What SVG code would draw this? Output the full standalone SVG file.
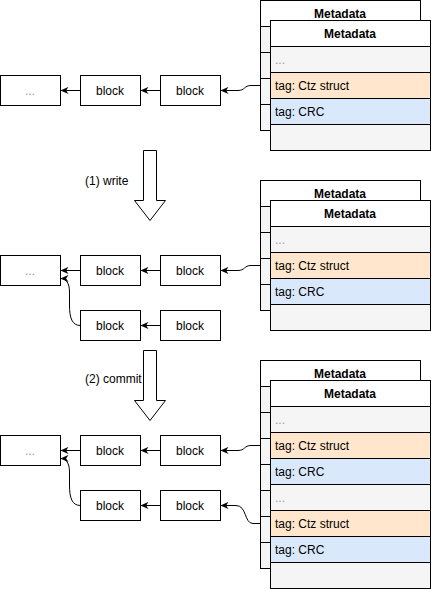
<svg xmlns="http://www.w3.org/2000/svg" width="431" height="589" viewBox="0 0 431 589">
<style>
text{font-family:"Liberation Sans",Arial,Helvetica,sans-serif;font-size:12px;fill:#000}
.c{text-anchor:middle;dominant-baseline:central}
.l{dominant-baseline:central}
.h{font-weight:bold}
.dots{fill:#999}
.box{fill:#fff;stroke:#000;stroke-width:1}
.row{fill:#f5f5f5;stroke:#000;stroke-width:1}
.ctz{fill:#ffe6cc;stroke:#000;stroke-width:1}
.crc{fill:#dae8fc;stroke:#000;stroke-width:1}
.big{fill:#fff;stroke:#000;stroke-width:1}
.e{fill:none;stroke:#000;stroke-width:1;marker-end:url(#ah)}
</style>
<defs>
<marker id="ah" markerUnits="userSpaceOnUse" viewBox="0 0 10 10" refX="10" refY="5" markerWidth="8" markerHeight="8" orient="auto">
<path d="M10,5 L0,0.5 L3,5 L0,9.5 z" fill="#000"/>
</marker>
</defs>

<!-- ===== Stage 1 ===== -->
<g id="meta1-back">
<rect class="row" x="260.5" y="26.5" width="160" height="26"/>
<rect class="row" x="260.5" y="52.5" width="160" height="26"/>
<rect class="row" x="260.5" y="78.5" width="160" height="26"/>
<rect class="row" x="260.5" y="104.5" width="160" height="26"/>
<rect class="box" x="260.5" y="0.5" width="160" height="26"/>
<text class="c h" x="340" y="13.5">Metadata</text>
</g>
<g id="meta1-front">
<rect class="box" x="270.5" y="20.5" width="160" height="26"/>
<text class="c h" x="350" y="33.5">Metadata</text>
<rect class="row" x="270.5" y="46.5" width="160" height="26"/>
<text class="l dots" x="275" y="59.5">...</text>
<rect class="ctz" x="270.5" y="72.5" width="160" height="26"/>
<text class="l" x="275" y="85.5">tag: Ctz struct</text>
<rect class="crc" x="270.5" y="98.5" width="160" height="26"/>
<text class="l" x="275" y="111.5">tag: CRC</text>
<rect class="row" x="270.5" y="124.5" width="160" height="26"/>
</g>
<g id="s1-dots"><rect class="box" x="0.5" y="75.5" width="60" height="30"/><text class="c dots" x="30" y="90.5">...</text></g>
<g id="s1-block1"><rect class="box" x="80.5" y="75.5" width="60" height="30"/><text class="c" x="110" y="90.5">block</text></g>
<g id="s1-block2"><rect class="box" x="160.5" y="75.5" width="60" height="30"/><text class="c" x="190" y="90.5">block</text></g>

<g id="arrow-write">
<path class="big" d="M143.5,150.5 H156.5 V200.5 H165.5 L150,220.5 L134.5,200.5 H143.5 Z"/>
<text class="l" x="85" y="180.5">(1) write</text>
</g>

<!-- ===== Stage 2 ===== -->
<g id="meta2-back">
<rect class="row" x="260.5" y="206.5" width="160" height="26"/>
<rect class="row" x="260.5" y="232.5" width="160" height="26"/>
<rect class="row" x="260.5" y="258.5" width="160" height="26"/>
<rect class="row" x="260.5" y="284.5" width="160" height="26"/>
<rect class="box" x="260.5" y="180.5" width="160" height="26"/>
<text class="c h" x="340" y="193.5">Metadata</text>
</g>
<g id="meta2-front">
<rect class="box" x="270.5" y="200.5" width="160" height="26"/>
<text class="c h" x="350" y="213.5">Metadata</text>
<rect class="row" x="270.5" y="226.5" width="160" height="26"/>
<text class="l dots" x="275" y="239.5">...</text>
<rect class="ctz" x="270.5" y="252.5" width="160" height="26"/>
<text class="l" x="275" y="265.5">tag: Ctz struct</text>
<rect class="crc" x="270.5" y="278.5" width="160" height="26"/>
<text class="l" x="275" y="291.5">tag: CRC</text>
<rect class="row" x="270.5" y="304.5" width="160" height="26"/>
</g>
<g id="s2-dots"><rect class="box" x="0.5" y="255.5" width="60" height="30"/><text class="c dots" x="30" y="270.5">...</text></g>
<g id="s2-block1"><rect class="box" x="80.5" y="255.5" width="60" height="30"/><text class="c" x="110" y="270.5">block</text></g>
<g id="s2-block2"><rect class="box" x="160.5" y="255.5" width="60" height="30"/><text class="c" x="190" y="270.5">block</text></g>
<g id="s2-block3"><rect class="box" x="80.5" y="310.5" width="60" height="30"/><text class="c" x="110" y="325.5">block</text></g>
<g id="s2-block4"><rect class="box" x="160.5" y="310.5" width="60" height="30"/><text class="c" x="190" y="325.5">block</text></g>

<g id="arrow-commit">
<path class="big" d="M143.5,350.5 H156.5 V400.5 H165.5 L150,420.5 L134.5,400.5 H143.5 Z"/>
<text class="l" x="85" y="378.5">(2) commit</text>
</g>

<!-- ===== Stage 3 ===== -->
<g id="meta3-back">
<rect class="row" x="260.5" y="386.5" width="160" height="26"/>
<rect class="row" x="260.5" y="412.5" width="160" height="26"/>
<rect class="row" x="260.5" y="438.5" width="160" height="26"/>
<rect class="row" x="260.5" y="464.5" width="160" height="26"/>
<rect class="row" x="260.5" y="490.5" width="160" height="26"/>
<rect class="row" x="260.5" y="516.5" width="160" height="26"/>
<rect class="row" x="260.5" y="542.5" width="160" height="26"/>
<rect class="box" x="260.5" y="360.5" width="160" height="26"/>
<text class="c h" x="340" y="373.5">Metadata</text>
</g>
<g id="meta3-front">
<rect class="box" x="270.5" y="380.5" width="160" height="26"/>
<text class="c h" x="350" y="393.5">Metadata</text>
<rect class="row" x="270.5" y="406.5" width="160" height="26"/>
<text class="l dots" x="275" y="419.5">...</text>
<rect class="ctz" x="270.5" y="432.5" width="160" height="26"/>
<text class="l" x="275" y="445.5">tag: Ctz struct</text>
<rect class="crc" x="270.5" y="458.5" width="160" height="26"/>
<text class="l" x="275" y="471.5">tag: CRC</text>
<rect class="row" x="270.5" y="484.5" width="160" height="26"/>
<text class="l dots" x="275" y="497.5">...</text>
<rect class="ctz" x="270.5" y="510.5" width="160" height="26"/>
<text class="l" x="275" y="523.5">tag: Ctz struct</text>
<rect class="crc" x="270.5" y="536.5" width="160" height="26"/>
<text class="l" x="275" y="549.5">tag: CRC</text>
<rect class="row" x="270.5" y="562.5" width="160" height="26"/>
</g>
<g id="s3-dots"><rect class="box" x="0.5" y="435.5" width="60" height="30"/><text class="c dots" x="30" y="450.5">...</text></g>
<g id="s3-block1"><rect class="box" x="80.5" y="435.5" width="60" height="30"/><text class="c" x="110" y="450.5">block</text></g>
<g id="s3-block2"><rect class="box" x="160.5" y="435.5" width="60" height="30"/><text class="c" x="190" y="450.5">block</text></g>
<g id="s3-block3"><rect class="box" x="80.5" y="490.5" width="60" height="30"/><text class="c" x="110" y="505.5">block</text></g>
<g id="s3-block4"><rect class="box" x="160.5" y="490.5" width="60" height="30"/><text class="c" x="190" y="505.5">block</text></g>

<g id="connectors">
<!-- stage 1 -->
<path class="e" d="M160.5,90.5 H140.5"/>
<path class="e" d="M80.5,90.5 H60.5"/>
<path class="e" d="M260.5,85.5 H251 C244,85.5 245,90.5 238,90.5 H220.5"/>
<!-- stage 2 -->
<path class="e" d="M160.5,270.5 H140.5"/>
<path class="e" d="M80.5,270.5 H60.5"/>
<path class="e" d="M260.5,265.5 H251 C244,265.5 245,270.5 238,270.5 H220.5"/>
<path class="e" d="M160.5,325.5 H140.5"/>
<path class="e" d="M80.5,325.5 C72,325.5 69.5,318 69.5,305 V292 C69.5,283 66,278.5 60.5,278.5"/>
<!-- stage 3 -->
<path class="e" d="M160.5,450.5 H140.5"/>
<path class="e" d="M80.5,450.5 H60.5"/>
<path class="e" d="M260.5,445.5 H251 C244,445.5 245,450.5 238,450.5 H220.5"/>
<path class="e" d="M160.5,505.5 H140.5"/>
<path class="e" d="M80.5,505.5 C72,505.5 69.5,498 69.5,485 V472 C69.5,463 66,458.5 60.5,458.5"/>
<path class="e" d="M260.5,523.5 H253 C244,523.5 247,505.5 236,505.5 H220.5"/>
</g>
</svg>
